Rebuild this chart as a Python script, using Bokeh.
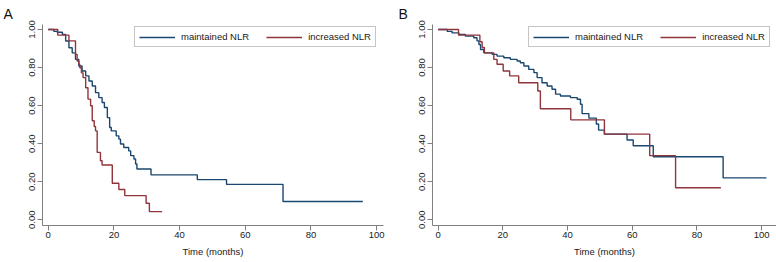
from bokeh.plotting import figure
from bokeh.layouts import row
from bokeh.models import Range1d, FixedTicker, Legend, LegendItem
from bokeh.embed import file_html
from bokeh.resources import INLINE

# ---- data ----
series_names = ["maintained NLR", "increased NLR"]
panel_labels = ["A", "B"]

a_maint_t = [0, 1.7, 2.7, 4.3, 5.3, 6.3, 7.3, 8.3, 9.3, 10.3, 11.4, 12.4, 13.4, 14.4, 15.4,
             16.4, 17.1, 18.0, 18.7, 19.2, 20.7, 21.5, 22.0, 23.0, 24.5, 25.1, 26.1, 26.6,
             27.0, 31.3, 45.4, 54.3, 71.5, 95.8]
a_maint_s = [1.0, 0.99, 0.985, 0.974, 0.939, 0.904, 0.877, 0.843, 0.808, 0.782, 0.756, 0.729,
             0.703, 0.668, 0.642, 0.616, 0.59, 0.537, 0.485, 0.467, 0.441, 0.424, 0.398, 0.38,
             0.362, 0.337, 0.319, 0.293, 0.267, 0.236, 0.211, 0.186, 0.096, 0.096]

a_incr_t = [0, 2.9, 6.3, 8.3, 8.8, 9.3, 9.6, 10.1, 10.6, 11.4, 12.1, 12.9, 13.4, 14.0, 14.4,
            14.9, 15.9, 16.4, 19.5, 21.5, 23.3, 29.8, 30.8, 34.7]
a_incr_s = [1.0, 0.97, 0.94, 0.869, 0.834, 0.817, 0.799, 0.772, 0.747, 0.694, 0.634, 0.599,
            0.52, 0.49, 0.467, 0.354, 0.31, 0.288, 0.192, 0.159, 0.127, 0.087, 0.043, 0.043]

b_maint_t = [0, 2.8, 4.3, 6.4, 8.4, 11.0, 12.0, 12.6, 13.1, 14.1, 16.7, 18.2, 20.3, 22.3, 24.4,
             25.4, 26.5, 28.0, 29.6, 30.6, 32.1, 33.7, 35.2, 36.3, 37.8, 40.9, 43.0, 44.0,
             44.5, 46.6, 48.9, 49.6, 51.4, 58.4, 60.3, 66.5, 88.1, 101.5]
b_maint_s = [1.0, 0.99, 0.982, 0.974, 0.965, 0.956, 0.94, 0.921, 0.895, 0.877, 0.869, 0.86,
             0.851, 0.843, 0.834, 0.825, 0.808, 0.79, 0.773, 0.747, 0.72, 0.703, 0.686, 0.66,
             0.65, 0.642, 0.633, 0.607, 0.558, 0.534, 0.503, 0.471, 0.45, 0.419, 0.389, 0.331,
             0.22, 0.22]

b_incr_t = [0, 6.3, 12.9, 13.6, 14.3, 17.2, 18.2, 20.1, 22.1, 24.9, 30.8, 31.6, 41.0, 51.4,
            65.4, 73.4, 87.4]
b_incr_s = [1.0, 0.97, 0.935, 0.905, 0.877, 0.843, 0.817, 0.782, 0.756, 0.72, 0.677, 0.583,
            0.525, 0.45, 0.337, 0.168, 0.168]

x_ticks = [0, 20, 40, 60, 80, 100]
x_tick_labels = ["0", "20", "40", "60", "80", "100"]
y_ticks = [0.0, 0.2, 0.4, 0.6, 0.8, 1.0]
y_tick_labels = ["0.00", "0.20", "0.40", "0.60", "0.80", "1.00"]
x_axis_title = "Time (months)"

NAVY = "#1a476f"
MAROON = "#90353b"
FONT = "Liberation Sans"
AXIS_C = "#808080"
TEXT_C = "#1a1a1a"


def make_panel(label, width, b_left, b_right, x_end, title_off, curves, legend_xy):
    p = figure(width=width, height=262, output_backend="svg", toolbar_location=None,
               x_range=Range1d(-1.75, x_end), y_range=Range1d(-0.030, 1.026),
               min_border_left=b_left, min_border_right=b_right,
               min_border_top=23, min_border_bottom=37)
    p.title.text = label
    p.title.text_font = FONT
    p.title.text_font_size = "14px"
    p.title.text_font_style = "normal"
    p.title.text_color = "#111111"
    p.title.align = "left"
    p.title.offset = title_off
    p.title.standoff = 6
    p.outline_line_color = None
    p.grid.visible = False
    p.background_fill_color = "white"
    p.border_fill_color = "white"

    for ax in (p.xaxis, p.yaxis):
        ax.axis_line_color = AXIS_C
        ax.major_tick_line_color = AXIS_C
        ax.minor_tick_line_color = None
        ax.major_tick_out = 5
        ax.major_tick_in = 0
        ax.major_label_text_font = FONT
        ax.major_label_text_font_size = "9.5px"
        ax.major_label_text_color = TEXT_C
    p.xaxis.ticker = FixedTicker(ticks=x_ticks)
    p.xaxis.major_label_overrides = dict(zip(x_ticks, x_tick_labels))
    p.yaxis.ticker = FixedTicker(ticks=y_ticks)
    p.yaxis.major_label_overrides = dict(zip(y_ticks, y_tick_labels))
    p.yaxis.major_label_orientation = "vertical"
    p.yaxis.major_label_standoff = 2
    p.xaxis.major_label_standoff = 1
    p.xaxis.axis_label = x_axis_title
    p.xaxis.axis_label_text_font = FONT
    p.xaxis.axis_label_text_font_size = "9.5px"
    p.xaxis.axis_label_text_font_style = "normal"
    p.xaxis.axis_label_text_color = TEXT_C
    p.xaxis.axis_label_standoff = 5

    rends = []
    for (t, s), color in zip(curves, [NAVY, MAROON]):
        r = p.step(t, s, mode="after", line_color=color, line_width=1.4)
        rends.append(r)

    legend = Legend(items=[LegendItem(label=n, renderers=[r]) for n, r in zip(series_names, rends)],
                    orientation="horizontal", location=legend_xy)
    legend.label_text_font = FONT
    legend.label_text_font_size = "9.5px"
    legend.label_text_color = TEXT_C
    legend.glyph_width = 36
    legend.glyph_height = 10
    legend.label_height = 10
    legend.label_standoff = 6
    legend.spacing = 17
    legend.padding = 4
    legend.margin = 0
    legend.border_line_color = "#8c8c8c"
    legend.border_line_width = 1
    legend.background_fill_alpha = 1
    p.add_layout(legend)
    return p


pa = make_panel(panel_labels[0], 388, 42, 5, 102.1, -39,
                [(a_maint_t, a_maint_s), (a_incr_t, a_incr_s)], (92, 178))
pb = make_panel(panel_labels[1], 388, 44, 0, 104.6, -34,
                [(b_maint_t, b_maint_s), (b_incr_t, b_incr_s)], (96, 178))

layout = row(pa, pb)
open("out.html", "w").write(file_html(layout, INLINE))
